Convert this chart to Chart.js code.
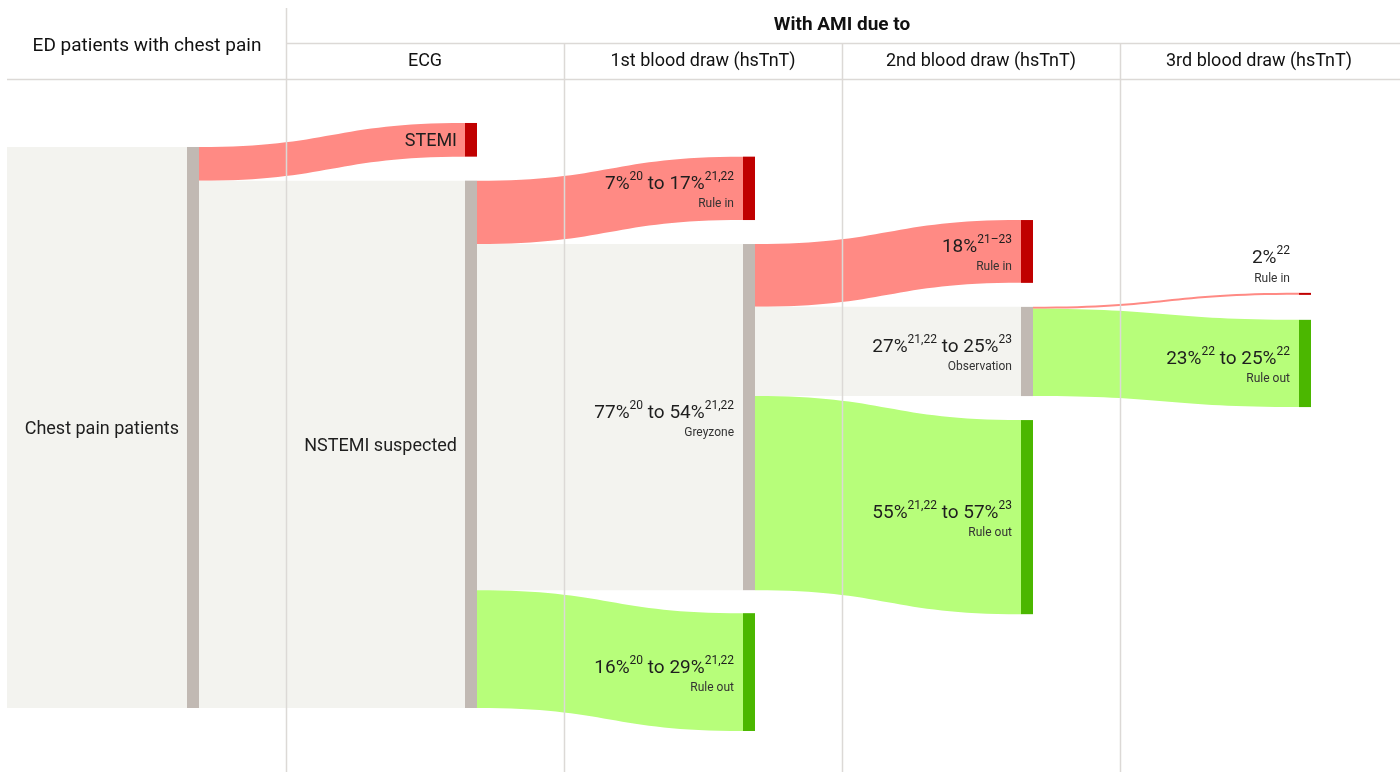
<!DOCTYPE html>
<html>
<head>
<meta charset="utf-8">
<script src="https://cdn.jsdelivr.net/npm/chart.js@4/dist/chart.umd.min.js"></script>
<style>
  html, body { margin: 0; padding: 0; background: #fff; }
  #chart { display: block; }
</style>
</head>
<body>
<canvas id="chart" width="1400" height="772"></canvas>
<script>
// columns (header row)
const rootHeader = 'ED patients with chest pain';
const groupHeader = 'With AMI due to';
const columnHeaders = ['ECG', '1st blood draw (hsTnT)', '2nd blood draw (hsTnT)', '3rd blood draw (hsTnT)'];

// nodes
const nodeIds = ['chest', 'stemi', 'nstemi', 'in1', 'grey', 'out1', 'in2', 'obs', 'out2', 'in3', 'out3'];
const nodeColumns = [0, 1, 1, 2, 2, 2, 3, 3, 3, 4, 4];
const nodeKinds = ['neutral', 'in', 'neutral', 'in', 'neutral', 'out', 'in', 'neutral', 'out', 'in', 'out'];
const nodeLabels = [
    'Chest pain patients', 'STEMI', 'NSTEMI suspected',
    '7%{20} to 17%{21,22}', '77%{20} to 54%{21,22}', '16%{20} to 29%{21,22}',
    '18%{21–23}', '27%{21,22} to 25%{23}', '55%{21,22} to 57%{23}',
    '2%{22}', '23%{22} to 25%{22}'
];
const nodeSubLabels = ['', '', '', 'Rule in', 'Greyzone', 'Rule out', 'Rule in', 'Observation', 'Rule out', 'Rule in', 'Rule out'];

// flows (share of chest pain patients, as drawn)
const flowFrom = ['chest', 'chest', 'nstemi', 'nstemi', 'nstemi', 'grey', 'grey', 'grey', 'obs', 'obs'];
const flowTo = ['stemi', 'nstemi', 'in1', 'grey', 'out1', 'in2', 'obs', 'out2', 'in3', 'out3'];
const flowValues = [6, 94, 11.3, 61.7, 21, 11.2, 15.9, 34.6, 0.35, 15.55];

// styling / layout
const colors = {
    neutral: { flow: '#f3f3ef', node: '#c1b9b3' },
    in: { flow: '#ff8a84', node: '#c00000' },
    out: { flow: '#b7fe7a', node: '#4bb700' }
};
const nodeShift = { stemi: -24, in1: -24, out1: 23, in2: -24, out2: 24, in3: -14, out3: 11 };
const NODE_W = 12;
const NODE_INSET = 87;
const FONT = 'Roboto, "Noto Sans", sans-serif';
const LINE = '#dcd9d6';

function richParts(text) {
    const parts = [];
    text.split(/(\{[^}]*\})/).forEach(s => {
        if (!s) return;
        if (s[0] === '{') parts.push({ t: s.slice(1, -1), sup: true });
        else parts.push({ t: s, sup: false });
    });
    return parts;
}

function drawRich(ctx, text, xRight, y, size) {
    const parts = richParts(text);
    const supSize = Math.round(size * 0.63);
    let total = 0;
    parts.forEach(p => {
        ctx.font = `${p.sup ? supSize : size}px ${FONT}`;
        p.w = ctx.measureText(p.t).width;
        total += p.w;
    });
    let x = xRight - total;
    ctx.textAlign = 'left';
    ctx.textBaseline = 'middle';
    parts.forEach(p => {
        ctx.font = `${p.sup ? supSize : size}px ${FONT}`;
        ctx.fillText(p.t, x, p.sup ? y - size * 0.38 : y);
        x += p.w;
    });
}

const sankeyPlugin = {
    id: 'sankey',
    afterDraw(chart) {
        const ctx = chart.ctx;
        const xs = chart.scales.x;
        const ys = chart.scales.y;
        const area = chart.chartArea;

        // layout nodes from the flow values
        const nodes = {};
        nodeIds.forEach((id, i) => {
            const right = xs.getPixelForValue(nodeColumns[i] + 1) - NODE_INSET;
            nodes[id] = { i, x0: right - NODE_W, x1: right, kind: nodeKinds[i], out: 0, size: 0 };
        });
        const root = nodes.chest;
        root.top = 0;
        root.size = flowValues.filter((v, k) => flowFrom[k] === 'chest').reduce((a, b) => a + b, 0);
        const flows = [];
        flowFrom.forEach((from, k) => {
            const s = nodes[from];
            const t = nodes[flowTo[k]];
            const v = flowValues[k];
            const sy0 = ys.getPixelForValue(s.top + s.out);
            const sy1 = ys.getPixelForValue(s.top + s.out + v);
            s.out += v;
            const shift = nodeShift[flowTo[k]] || 0;
            t.top = ys.getValueForPixel(sy0 + shift);
            t.size = v;
            flows.push({ s, t, sy0, sy1, ty0: sy0 + shift, ty1: sy1 + shift });
        });

        ctx.save();
        // background band for the root node
        ctx.fillStyle = colors.neutral.flow;
        ctx.fillRect(area.left - 1, ys.getPixelForValue(0), root.x0 - area.left + 1, ys.getPixelForValue(root.size) - ys.getPixelForValue(0));

        // flows
        flows.forEach(f => {
            const x0 = f.s.x1, x1 = f.t.x0;
            const mx = (x0 + x1) / 2;
            let ty1 = f.ty1, sy1 = f.sy1;
            if (sy1 - f.sy0 < 1.6) { sy1 = f.sy0 + 1.6; ty1 = f.ty0 + 1.6; }
            ctx.beginPath();
            ctx.moveTo(x0, f.sy0);
            ctx.bezierCurveTo(mx, f.sy0, mx, f.ty0, x1, f.ty0);
            ctx.lineTo(x1, ty1);
            ctx.bezierCurveTo(mx, ty1, mx, sy1, x0, sy1);
            ctx.closePath();
            ctx.fillStyle = colors[f.t.kind].flow;
            ctx.fill();
        });

        // nodes
        nodeIds.forEach(id => {
            const n = nodes[id];
            const y0 = ys.getPixelForValue(n.top);
            const h = Math.max(2, ys.getPixelForValue(n.top + n.size) - y0);
            ctx.fillStyle = colors[n.kind].node;
            ctx.fillRect(n.x0, y0, NODE_W, h);
            n.py0 = y0; n.ph = h;
        });

        // grid lines
        ctx.strokeStyle = LINE;
        ctx.lineWidth = 1.5;
        ctx.beginPath();
        for (let c = 1; c <= columnHeaders.length; c++) {
            const x = Math.round(xs.getPixelForValue(c)) + 0.5;
            ctx.moveTo(x, c === 1 ? 8 : 43);
            ctx.lineTo(x, area.bottom);
        }
        ctx.moveTo(xs.getPixelForValue(1), 43.5);
        ctx.lineTo(area.right + 2, 43.5);
        ctx.moveTo(area.left - 1, 79.5);
        ctx.lineTo(area.right + 2, 79.5);
        ctx.stroke();

        // node labels
        nodeIds.forEach(id => {
            const n = nodes[id];
            const xr = n.x0 - 9;
            const cy = n.py0 + n.ph / 2;
            const sub = nodeSubLabels[n.i];
            ctx.fillStyle = '#1e1e1e';
            if (!sub) {
                drawRich(ctx, nodeLabels[n.i], xr + 1, cy + 2, 18);
                return;
            }
            let my = cy - 4, sy = cy + 16;
            if (n.ph < 10) { my = n.py0 - 35; sy = n.py0 - 14; }
            drawRich(ctx, nodeLabels[n.i], xr, my, 19);
            ctx.fillStyle = '#333';
            ctx.font = `12px ${FONT}`;
            ctx.textAlign = 'right';
            ctx.textBaseline = 'middle';
            ctx.fillText(sub, xr, sy);
        });

        // headers
        ctx.fillStyle = '#111';
        ctx.textAlign = 'center';
        ctx.textBaseline = 'middle';
        ctx.font = `19px ${FONT}`;
        ctx.fillText(rootHeader, (area.left + xs.getPixelForValue(1)) / 2, 46);
        ctx.font = `18px ${FONT}`;
        columnHeaders.forEach((h, c) => {
            ctx.fillText(h, (xs.getPixelForValue(c + 1) + xs.getPixelForValue(c + 2)) / 2, 61);
        });
        ctx.font = `bold 19px ${FONT}`;
        ctx.fillText(groupHeader, xs.getPixelForValue(3), 25);
        ctx.restore();
    }
};

new Chart(document.getElementById('chart'), {
    type: 'scatter',
    data: { datasets: [{ data: [], showLine: false }] },
    options: {
        responsive: false,
        animation: false,
        events: [],
        layout: { padding: { left: 8, right: 2, top: 0, bottom: 0 } },
        plugins: { legend: { display: false }, tooltip: { enabled: false } },
        scales: {
            x: { type: 'linear', min: 0, max: 5, display: false },
            y: { type: 'linear', min: -26.2, max: 111.41, reverse: true, display: false }
        }
    },
    plugins: [sankeyPlugin]
});
</script>
</body>
</html>
